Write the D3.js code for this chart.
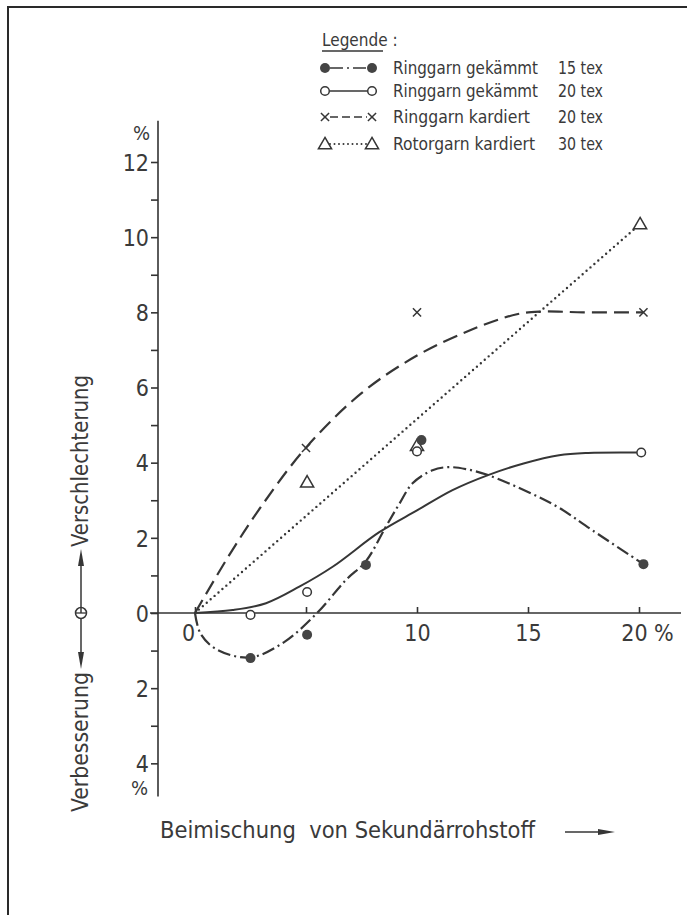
<!DOCTYPE html>
<html>
  <head>
    <title>Beimischung von Sekundärrohstoff</title>
    <style>
    body {
        margin: 0px;
        overflow: hidden;
        background: #fff;
    }

    text {
        font-family: "DejaVu Sans Condensed", "Liberation Sans Narrow", "DejaVu Sans", sans-serif;
        font-stretch: condensed;
        fill: #3a3a3a;
    }

    .tick text {
        font-size: 23px;
    }

    .tick line, .axis-line {
        stroke: #333;
        stroke-width: 1.6;
    }
    </style>
    <script src="https://d3js.org/d3.v7.min.js"></script>
  </head>
  <body>

    <svg width="687" height="915"></svg>

    <script>
        // ticks
        const xTicks = [0, 5, 10, 15, 20];
        const xTickLabels = ['0', '', '10', '15', '20 %'];
        const yTicks = [-4, -3, -2, -1, 0, 1, 2, 3, 4, 5, 6, 7, 8, 9, 10, 11, 12];
        const yTickLabels = ['4', '', '2', '', '0', '', '2', '', '4', '', '6', '', '8', '', '10', '', '12'];

        // legend
        const legendNames = ['Ringgarn gekämmt', 'Ringgarn gekämmt', 'Ringgarn kardiert', 'Rotorgarn kardiert'];
        const legendTex = ['15 tex', '20 tex', '20 tex', '30 tex'];

        // measured points
        const gek15Points = [[2.5, -1.2], [5.05, -0.58], [7.7, 1.28], [10.2, 4.6], [20.2, 1.3]];
        const gek20Points = [[2.5, -0.05], [5.05, 0.56], [10, 4.3], [20.1, 4.27]];
        const kard20Points = [[5, 4.39], [10, 8.0], [20.2, 8.0]];
        const rotor30Points = [[5.05, 3.48], [10, 4.45], [20.05, 10.35]];

        // drawn (smoothed) curves
        const gek15Curve = [[0, 0], [0.25, -0.55], [1, -0.98], [2.5, -1.18], [4, -0.78], [5.5, 0], [6.8, 0.88], [7.7, 1.38],
            [8.6, 2.3], [9.2, 2.9], [9.8, 3.45], [10.7, 3.8], [11.4, 3.88], [12.2, 3.83], [13.2, 3.67], [15, 3.22],
            [16.4, 2.8], [17.9, 2.2], [20.2, 1.3]];
        const gek20Curve = [[0, 0], [1.7, 0.08], [3.2, 0.26], [4.7, 0.7], [6.2, 1.23], [8.3, 2.15], [10, 2.73],
            [11.6, 3.27], [13.2, 3.67], [14.8, 3.98], [16.4, 4.2], [17.7, 4.26], [20.1, 4.27]];
        const kard20Curve = [[0, 0], [1.5, 1.5], [3, 2.85], [5, 4.4], [7.5, 5.85], [10, 6.85], [12.5, 7.55],
            [14.5, 7.95], [15.5, 8.02], [17.5, 8.0], [20.2, 8.0]];
        const rotor30Curve = [[0, 0], [20.05, 10.35]];

        const svg = d3.select('svg');
        const ink = '#363636';

        const xScale = d3.scaleLinear().domain([0, 20]).range([195, 639]);
        const yScale = d3.scaleLinear().domain([0, 12]).range([613, 162]);

        // frame (only top and left edge are in the picture)
        svg.append('path')
            .attr('d', 'M8,920 L8,7 L690,7')
            .attr('fill', 'none')
            .attr('stroke', '#2a2a2a')
            .attr('stroke-width', 2);

        // y axis
        const yAxis = d3.axisLeft(yScale)
            .tickValues(yTicks)
            .tickSize(7)
            .tickPadding(2)
            .tickFormat((d, i) => yTickLabels[i]);
        const yAxisG = svg.append('g')
            .attr('transform', `translate(${xScale(0) - 37},0)`)
            .call(yAxis);
        yAxisG.select('.domain').remove();
        yAxisG.selectAll('.tick text').attr('dy', '0.36em');
        yAxisG.append('line')
            .attr('class', 'axis-line')
            .attr('y1', yScale(13.1)).attr('y2', yScale(-4.88));

        yAxisG.append('text').attr('x', -8).attr('y', 140)
            .attr('text-anchor', 'end').attr('font-size', 20).text('%');
        yAxisG.append('text').attr('x', -10).attr('y', 795)
            .attr('text-anchor', 'end').attr('font-size', 20).text('%');

        // x axis
        const xAxis = d3.axisBottom(xScale)
            .tickValues(xTicks)
            .tickSize(-6)
            .tickPadding(12)
            .tickFormat((d, i) => xTickLabels[i]);
        const xAxisG = svg.append('g')
            .attr('transform', `translate(0,${yScale(0)})`)
            .call(xAxis);
        xAxisG.select('.domain').remove();
        xAxisG.selectAll('.tick text')
            .attr('dx', (d, i) => i === 0 ? -7 : (i === 4 ? 8 : 0));
        xAxisG.append('line')
            .attr('class', 'axis-line')
            .attr('x1', 150).attr('x2', 681);

        // curves
        const line = d3.line()
            .x(d => xScale(d[0]))
            .y(d => yScale(d[1]))
            .curve(d3.curveCatmullRom.alpha(0.5));

        const styles = {
            gek15: '13,4,2,4',
            gek20: null,
            kard20: '15,7',
            rotor30: '0,5.2'
        };

        const plot = svg.append('g');
        plot.append('path').datum(rotor30Curve)
            .attr('d', line).attr('fill', 'none').attr('stroke', ink)
            .attr('stroke-width', 2.4).attr('stroke-linecap', 'round')
            .attr('stroke-dasharray', styles.rotor30);
        plot.append('path').datum(kard20Curve)
            .attr('d', line).attr('fill', 'none').attr('stroke', ink)
            .attr('stroke-width', 2.2).attr('stroke-dasharray', styles.kard20);
        plot.append('path').datum(gek20Curve)
            .attr('d', line).attr('fill', 'none').attr('stroke', ink)
            .attr('stroke-width', 2);
        plot.append('path').datum(gek15Curve)
            .attr('d', line).attr('fill', 'none').attr('stroke', ink)
            .attr('stroke-width', 2.2).attr('stroke-dasharray', styles.gek15);

        // markers
        const triangle = d3.symbol().type(d3.symbolTriangle).size(75);
        const cross = d3.symbol().type(d3.symbolTimes || d3.symbolX).size(45);

        const drawFilled = (sel, pts) => sel.selectAll(null).data(pts).enter().append('circle')
            .attr('cx', d => xScale(d[0])).attr('cy', d => yScale(d[1]))
            .attr('r', 5).attr('fill', '#444');
        const drawOpen = (sel, pts) => sel.selectAll(null).data(pts).enter().append('circle')
            .attr('cx', d => xScale(d[0])).attr('cy', d => yScale(d[1]))
            .attr('r', 4.3).attr('fill', '#fff').attr('stroke', ink).attr('stroke-width', 1.5);
        const drawCross = (sel, pts) => sel.selectAll(null).data(pts).enter().append('path')
            .attr('d', cross)
            .attr('transform', d => `translate(${xScale(d[0])},${yScale(d[1])})`)
            .attr('fill', 'none').attr('stroke', ink).attr('stroke-width', 1.5);
        const drawTri = (sel, pts) => sel.selectAll(null).data(pts).enter().append('path')
            .attr('d', triangle)
            .attr('transform', d => `translate(${xScale(d[0])},${yScale(d[1]) + 1})`)
            .attr('fill', '#fff').attr('stroke', ink).attr('stroke-width', 1.5);

        drawTri(plot.append('g'), rotor30Points);
        drawCross(plot.append('g'), kard20Points);
        drawOpen(plot.append('g'), gek20Points);
        drawFilled(plot.append('g'), gek15Points);

        // legend
        const legend = svg.append('g');
        legend.append('text').attr('x', 322).attr('y', 46)
            .attr('font-size', 17).text('Legende :');
        legend.append('line').attr('x1', 322).attr('x2', 383)
            .attr('y1', 51).attr('y2', 51)
            .attr('stroke', ink).attr('stroke-width', 1.5);

        const rowY = [68, 91, 117, 144];
        const lx1 = 325, lx2 = 372;
        const legendDash = [styles.gek15, null, '8,4', '0,4.5'];
        const legendNameLen = [145, 145, 137, 142];

        rowY.forEach((y, i) => {
            legend.append('line')
                .attr('x1', lx1 + 5).attr('x2', lx2 - 5)
                .attr('y1', y).attr('y2', y)
                .attr('stroke', ink)
                .attr('stroke-width', i === 3 ? 2 : 1.6)
                .attr('stroke-linecap', i === 3 ? 'round' : 'butt')
                .attr('stroke-dasharray', legendDash[i]);
            legend.append('text')
                .attr('x', 393).attr('y', y + 6)
                .attr('font-size', 18)
                .attr('textLength', legendNameLen[i])
                .attr('lengthAdjust', 'spacingAndGlyphs')
                .text(legendNames[i]);
            legend.append('text')
                .attr('x', 558).attr('y', y + 6)
                .attr('font-size', 18)
                .attr('textLength', 45)
                .attr('lengthAdjust', 'spacingAndGlyphs')
                .text(legendTex[i]);
        });
        const legendPts = y => [[xScale.invert(lx1), yScale.invert(y)], [xScale.invert(lx2), yScale.invert(y)]];
        drawFilled(legend.append('g'), legendPts(rowY[0]));
        drawOpen(legend.append('g'), legendPts(rowY[1]));
        drawCross(legend.append('g'), legendPts(rowY[2]));
        drawTri(legend.append('g'), legendPts(rowY[3]));

        // y axis title with arrows
        const yt = svg.append('g');
        yt.append('text')
            .attr('transform', `translate(88,547) rotate(-90)`)
            .attr('font-size', 23)
            .attr('textLength', 172)
            .attr('lengthAdjust', 'spacingAndGlyphs')
            .text('Verschlechterung');
        yt.append('text')
            .attr('transform', `translate(88,812) rotate(-90)`)
            .attr('font-size', 23)
            .attr('textLength', 140)
            .attr('lengthAdjust', 'spacingAndGlyphs')
            .text('Verbesserung');
        const cy0 = yScale(0);
        yt.append('line').attr('x1', 81).attr('x2', 81)
            .attr('y1', 560).attr('y2', 656)
            .attr('stroke', ink).attr('stroke-width', 1.5);
        yt.append('circle').attr('cx', 81).attr('cy', cy0).attr('r', 5.5)
            .attr('fill', '#fff').attr('stroke', ink).attr('stroke-width', 1.5);
        yt.append('line').attr('x1', 81).attr('x2', 81)
            .attr('y1', cy0 - 5.5).attr('y2', cy0)
            .attr('stroke', ink).attr('stroke-width', 1.5);
        yt.append('line').attr('x1', 76).attr('x2', 86)
            .attr('y1', cy0).attr('y2', cy0)
            .attr('stroke', ink).attr('stroke-width', 1.3);
        yt.append('path').attr('d', 'M81,549 L78,566 L84,566 Z').attr('fill', ink);
        yt.append('path').attr('d', 'M81,669 L78,652 L84,652 Z').attr('fill', ink);

        // x axis title
        svg.append('text')
            .attr('x', 160).attr('y', 838)
            .attr('font-size', 23)
            .attr('textLength', 375)
            .attr('lengthAdjust', 'spacingAndGlyphs')
            .style('white-space', 'pre')
            .text('Beimischung  von Sekundärrohstoff');
        svg.append('line').attr('x1', 565).attr('x2', 603)
            .attr('y1', 832).attr('y2', 832)
            .attr('stroke', ink).attr('stroke-width', 1.5);
        svg.append('path').attr('d', 'M615,832 L598,829 L598,835 Z').attr('fill', ink);
    </script>
  </body>
</html>
